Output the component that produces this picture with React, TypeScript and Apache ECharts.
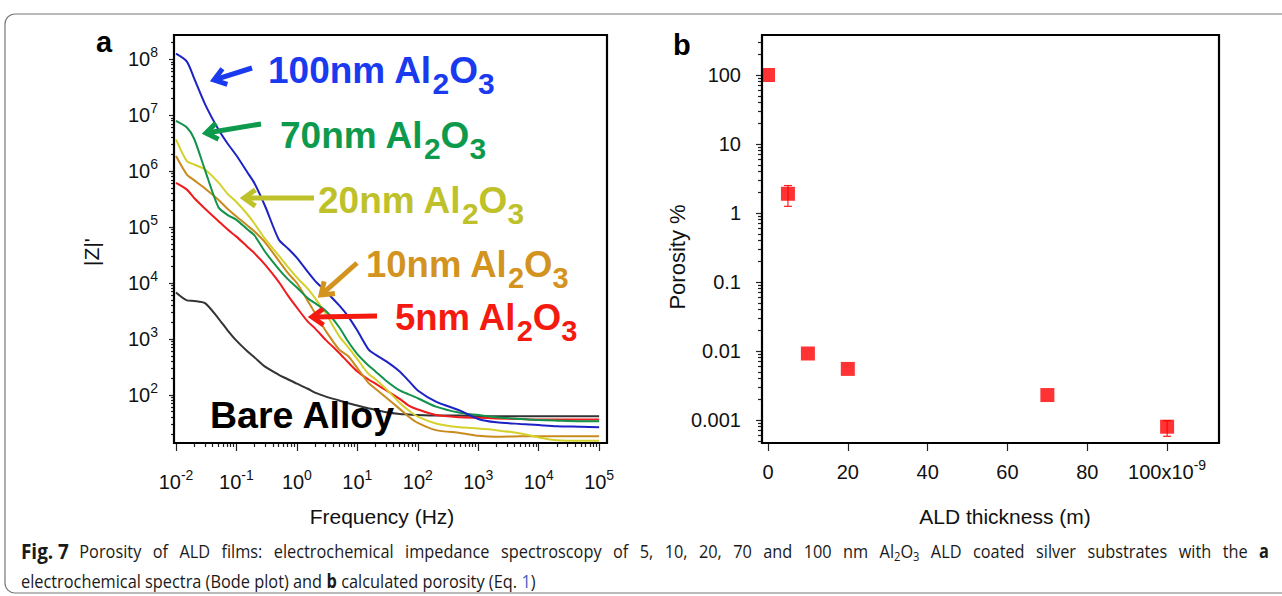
import React, { useEffect, useRef } from "react";
import * as echarts from "echarts";

// ---------------- Panel a: Bode plot, values read as log10 ----------------
const log10Freq = [-2, -1.82, -1.7, -1.52, -1.3, -1.15, -1, -0.82, -0.7, -0.52, -0.3, -0.15, 0, 0.18, 0.3, 0.48, 0.7, 0.85, 1, 1.18, 1.3, 1.48, 1.7, 1.85, 2, 2.3, 2.7, 3, 3.3, 3.7, 4, 4.3, 4.7, 5];

const log10Z100nm = [8.10, 7.96, 7.66, 7.20, 6.75, 6.50, 6.28, 5.98, 5.78, 5.36, 4.78, 4.62, 4.45, 4.20, 4.04, 3.85, 3.60, 3.40, 3.15, 2.82, 2.72, 2.60, 2.42, 2.25, 2.08, 1.88, 1.72, 1.57, 1.51, 1.48, 1.46, 1.44, 1.43, 1.42];
const log10Z70nm = [6.90, 6.78, 6.58, 6.02, 5.36, 5.22, 5.13, 4.96, 4.85, 4.55, 4.25, 4.07, 3.92, 3.73, 3.64, 3.50, 3.21, 2.95, 2.73, 2.53, 2.42, 2.25, 2.08, 2.01, 1.94, 1.79, 1.68, 1.64, 1.60, 1.57, 1.55, 1.54, 1.53, 1.53];
const log10Z20nm = [6.57, 6.18, 6.12, 6.03, 5.80, 5.60, 5.45, 5.23, 5.06, 4.78, 4.49, 4.29, 4.10, 3.90, 3.73, 3.45, 3.05, 2.85, 2.64, 2.38, 2.28, 2.10, 1.86, 1.72, 1.61, 1.49, 1.42, 1.40, 1.37, 1.31, 1.24, 1.19, 1.18, 1.18];
const log10Z10nm = [6.27, 5.94, 5.84, 5.69, 5.49, 5.33, 5.19, 5.03, 4.92, 4.72, 4.40, 4.18, 4.00, 3.68, 3.46, 3.14, 2.81, 2.69, 2.48, 2.22, 2.11, 1.95, 1.75, 1.61, 1.50, 1.37, 1.32, 1.27, 1.25, 1.26, 1.26, 1.26, 1.26, 1.26];
const log10Z5nm = [5.79, 5.67, 5.52, 5.33, 5.11, 4.96, 4.83, 4.65, 4.53, 4.32, 4.02, 3.78, 3.56, 3.31, 3.19, 2.98, 2.75, 2.58, 2.42, 2.28, 2.20, 2.08, 1.93, 1.81, 1.74, 1.64, 1.60, 1.59, 1.58, 1.57, 1.56, 1.56, 1.56, 1.56];
const log10ZBare = [3.83, 3.69, 3.68, 3.64, 3.37, 3.16, 2.97, 2.78, 2.67, 2.50, 2.36, 2.28, 2.20, 2.11, 2.04, 1.97, 1.90, 1.85, 1.81, 1.76, 1.73, 1.69, 1.66, 1.65, 1.64, 1.63, 1.63, 1.62, 1.62, 1.62, 1.62, 1.62, 1.62, 1.62];

const freqTickExp = [-2, -1, 0, 1, 2, 3, 4, 5];
const zTickExp = [2, 3, 4, 5, 6, 7, 8];

// ---------------- Panel b: porosity ----------------
const thicknessNm = [0, 5, 10, 20, 70, 100];
const porosityPct = [100, 1.9, 0.0092, 0.0055, 0.0023, 0.0008];
const errThicknessNm = [5, 100];
const errLowPct = [1.25, 0.00058];
const errHighPct = [2.5, 0.00098];

const thicknessTicks = [0, 20, 40, 60, 80, 100];
const porosityTicks = [0.001, 0.01, 0.1, 1, 10, 100];
const porosityTickLabels = ["0.001", "0.01", "0.1", "1", "10", "100"];

const FONT = "'Liberation Sans', Arial, Helvetica, sans-serif";
const CAP_FONT = "'Open Sans', 'Noto Sans', sans-serif";

// minor tick positions (axis decoration only)
const xMinorA: number[] = [];
for (let e = -2; e <= 4; e++) for (let k = 2; k <= 9; k++) xMinorA.push(e + Math.log10(k));
const yMinorA: number[] = [];
for (let e = 1; e <= 8; e++) for (let k = 2; k <= 9; k++) { const v = e + Math.log10(k); if (v > 1.14 && v < 8.435) yMinorA.push(v); }
const yMinorB: number[] = [];
for (let e = -4; e <= 2; e++) for (let k = 2; k <= 9; k++) { const v = parseFloat((k * Math.pow(10, e)).toPrecision(3)); if (v > 0.000464 && v < 380) yMinorB.push(v); }

const supRich = {
  b: { fontSize: 20, fontFamily: FONT, color: "#111", lineHeight: 28, verticalAlign: "middle" },
  s: { fontSize: 14, fontFamily: FONT, color: "#111", lineHeight: 14, verticalAlign: "top" },
};

function txt(text: string, x: number, y: number, o: any = {}) {
  const align = o.align || "center";
  const va = o.va || "middle";
  return {
    type: "text", x, y, rotation: o.rotation || 0, z: 100, silent: true,
    style: {
      text, fontSize: o.fontSize || 20, fontWeight: o.fontWeight || "normal", fontFamily: o.fontFamily || FONT,
      fill: o.color || "#111", align, verticalAlign: va, textAlign: align, textVerticalAlign: va, rich: o.rich,
    },
  };
}

function annRich(color: string, size: number) {
  return {
    m: { fontSize: size, fontWeight: "bold", fontFamily: FONT, fill: color, color, lineHeight: Math.round(size * 1.55), verticalAlign: "middle" },
    s: { fontSize: Math.round(size * 0.8), fontWeight: "bold", fontFamily: FONT, fill: color, color, lineHeight: Math.round(size * 0.95), verticalAlign: "bottom" },
  };
}

function arrow(x1: number, y1: number, x2: number, y2: number, color: string) {
  const ang = Math.atan2(y2 - y1, x2 - x1);
  const L = 14, spread = 0.62;
  const a1 = ang + Math.PI - spread, a2 = ang + Math.PI + spread;
  const ex = x2 - 2 * Math.cos(ang), ey = y2 - 2 * Math.sin(ang);
  return [
    { type: "line", z: 99, silent: true, shape: { x1, y1, x2: ex, y2: ey }, style: { stroke: color, lineWidth: 5 } },
    {
      type: "polyline", z: 99, silent: true,
      shape: { points: [[x2 + L * Math.cos(a1), y2 + L * Math.sin(a1)], [x2, y2], [x2 + L * Math.cos(a2), y2 + L * Math.sin(a2)]] },
      style: { stroke: color, lineWidth: 5, fill: "none", lineJoin: "miter" },
    },
  ];
}

function buildOption() {
  const curves = [
    { name: "Bare Alloy", d: log10ZBare, c: "#333333" },
    { name: "5nm Al2O3", d: log10Z5nm, c: "#ee1c1c" },
    { name: "10nm Al2O3", d: log10Z10nm, c: "#c98a1e" },
    { name: "20nm Al2O3", d: log10Z20nm, c: "#d4d02c" },
    { name: "70nm Al2O3", d: log10Z70nm, c: "#12924a" },
    { name: "100nm Al2O3", d: log10Z100nm, c: "#1c22c4" },
  ];
  const tickStyle = { color: "#222", width: 1.2 };
  const capInk = "#1a1a1a";
  const capRich: any = {
    fig: { fontSize: 22, fontWeight: "bold", fontFamily: CAP_FONT, fill: capInk, lineHeight: 26, verticalAlign: "middle" },
    n: { fontSize: 19, fontFamily: CAP_FONT, fill: capInk, lineHeight: 26, verticalAlign: "middle" },
    bold: { fontSize: 19, fontWeight: "bold", fontFamily: CAP_FONT, fill: capInk, lineHeight: 26, verticalAlign: "middle" },
    sub: { fontSize: 13, fontFamily: CAP_FONT, fill: capInk, lineHeight: 14, verticalAlign: "bottom" },
    link: { fontSize: 19, fontFamily: CAP_FONT, fill: "#3b5fc4", lineHeight: 26, verticalAlign: "middle" },
    sp: { fontSize: 19, fontFamily: CAP_FONT, fill: capInk, lineHeight: 26, width: 13.2, verticalAlign: "middle" },
    gap: { fontSize: 19, fontFamily: CAP_FONT, fill: capInk, lineHeight: 26, width: 12, verticalAlign: "middle" },
  };
  const capScale = 0.86;
  const line1Words = [
    "{n|Porosity}", "{n|of}", "{n|ALD}", "{n|films:}", "{n|electrochemical}", "{n|impedance}", "{n|spectroscopy}", "{n|of}",
    "{n|5,}", "{n|10,}", "{n|20,}", "{n|70}", "{n|and}", "{n|100}", "{n|nm}", "{n|Al}{sub|2}{n|O}{sub|3}", "{n|ALD}",
    "{n|coated}", "{n|silver}", "{n|substrates}", "{n|with}", "{n|the}", "{bold|a}",
  ];
  const line1 = "{fig|Fig. 7}{gap| }" + line1Words.join("{sp| }");

  const graphics: any[] = [
    { type: "rect", z: 0, silent: true, shape: { x: 5, y: 14, width: 1300, height: 579, r: 10 }, style: { fill: "none", stroke: "#777", lineWidth: 1.2 } },
    { type: "rect", z: 60, silent: true, shape: { x: 174, y: 35, width: 433, height: 408 }, style: { fill: "none", stroke: "#000", lineWidth: 2.2 } },
    { type: "rect", z: 60, silent: true, shape: { x: 762, y: 35, width: 457, height: 408 }, style: { fill: "none", stroke: "#000", lineWidth: 2.2 } },
    txt("a", 96, 42, { fontSize: 29, fontWeight: "bold", align: "left", color: "#000" }),
    txt("b", 673, 45, { fontSize: 29, fontWeight: "bold", align: "left", color: "#000" }),
    txt("|Z|'", 91, 252, { fontSize: 21, rotation: Math.PI / 2 }),
    txt("Frequency (Hz)", 382, 516, { fontSize: 21 }),
    txt("Porosity %", 677, 257, { fontSize: 22, rotation: Math.PI / 2 }),
    txt("ALD thickness (m)", 1005, 516, { fontSize: 21 }),
    txt("{m|100nm Al}{s|2}{m|O}{s|3}", 268, 70, { align: "left", rich: annRich("#1a3af0", 37) }),
    txt("{m|70nm Al}{s|2}{m|O}{s|3}", 280, 135, { align: "left", rich: annRich("#0e9a4c", 37) }),
    txt("{m|20nm Al}{s|2}{m|O}{s|3}", 318, 200, { align: "left", rich: annRich("#bfc12a", 37) }),
    txt("{m|10nm Al}{s|2}{m|O}{s|3}", 366, 264, { align: "left", rich: annRich("#d3931f", 36.5) }),
    txt("{m|5nm Al}{s|2}{m|O}{s|3}", 395, 317, { align: "left", rich: annRich("#f51a0f", 36.5) }),
    txt("Bare Alloy", 210, 415, { align: "left", fontSize: 37.5, fontWeight: "bold", color: "#000" }),
    ...arrow(252, 68, 214, 80, "#1a3af0"),
    ...arrow(261, 124, 206, 133, "#0e9a4c"),
    ...arrow(314, 198, 244, 198, "#bfc12a"),
    ...arrow(357, 263, 321, 295, "#d3931f"),
    ...arrow(377, 316, 312, 317, "#f51a0f"),
    {
      type: "group", x: 21, y: 0, scaleX: capScale, silent: true,
      children: [
        txt(line1, 0, 550, { align: "left", rich: capRich }),
        txt("{n|electrochemical spectra (Bode plot) and }{bold|b}{n| calculated porosity (Eq. }{link|1}{n|)}", 0, 580, { align: "left", rich: capRich }),
      ],
    },
  ];

  const noLine = { show: false, onZero: false };

  return {
    animation: false,
    backgroundColor: "#fff",
    grid: [
      { left: 174, top: 35, width: 433, height: 408, show: false },
      { left: 762, top: 35, width: 457, height: 408, show: false },
    ],
    xAxis: [
      {
        gridIndex: 0, type: "value", min: -2.033, max: 5.13, position: "bottom",
        axisLine: noLine, splitLine: { show: false },
        axisTick: { show: true, customValues: freqTickExp, length: 8, lineStyle: tickStyle },
        axisLabel: { customValues: freqTickExp, margin: 25, formatter: (v: number) => `{b|10}{s|${Math.round(v)}}`, rich: supRich },
      },
      {
        gridIndex: 0, type: "value", min: -2.033, max: 5.13, position: "bottom",
        axisLine: noLine, splitLine: { show: false },
        axisTick: { show: true, customValues: xMinorA, length: 4, lineStyle: tickStyle },
        axisLabel: { show: false },
      },
      {
        gridIndex: 1, type: "value", min: -1.5, max: 113, position: "bottom",
        axisLine: noLine, splitLine: { show: false },
        axisTick: { show: true, customValues: thicknessTicks, length: 8, lineStyle: tickStyle },
        axisLabel: {
          customValues: thicknessTicks, margin: 15, rich: supRich,
          formatter: (v: number) => (Math.round(v) === 100 ? "{b|100x10}{s|-9}" : `{b|${Math.round(v)}}`),
        },
      },
    ],
    yAxis: [
      {
        gridIndex: 0, type: "value", min: 1.14, max: 8.435, position: "left",
        axisLine: noLine, splitLine: { show: false },
        axisTick: { show: true, customValues: zTickExp, length: 5, lineStyle: tickStyle },
        axisLabel: { customValues: zTickExp, margin: 16, formatter: (v: number) => `{b|10}{s|${Math.round(v)}}`, rich: supRich },
      },
      {
        gridIndex: 0, type: "value", min: 1.14, max: 8.435, position: "left",
        axisLine: noLine, splitLine: { show: false },
        axisTick: { show: true, customValues: yMinorA, length: 3, lineStyle: tickStyle },
        axisLabel: { show: false },
      },
      {
        gridIndex: 1, type: "log", logBase: 10, min: 0.000464, max: 380, position: "left",
        axisLine: noLine, splitLine: { show: false },
        axisTick: { show: true, customValues: porosityTicks, length: 6, lineStyle: tickStyle },
        axisLabel: {
          customValues: porosityTicks, margin: 21, fontSize: 20, fontFamily: FONT, color: "#111",
          formatter: (v: number) => {
            const i = porosityTicks.findIndex((t) => Math.abs(Math.log10(t) - Math.log10(v)) < 1e-6);
            return i >= 0 ? porosityTickLabels[i] : "";
          },
        },
      },
      {
        gridIndex: 1, type: "log", logBase: 10, min: 0.000464, max: 380, position: "left",
        axisLine: noLine, splitLine: { show: false },
        axisTick: { show: true, customValues: yMinorB, length: 4, lineStyle: tickStyle },
        axisLabel: { show: false },
      },
    ],
    series: [
      ...curves.map((c) => ({
        type: "line", name: c.name, xAxisIndex: 0, yAxisIndex: 0,
        data: log10Freq.map((f, i) => [f, c.d[i]]),
        showSymbol: false, symbol: "none", smooth: 0.25,
        lineStyle: { color: c.c, width: 2 }, itemStyle: { color: c.c }, z: 2,
      })),
      {
        type: "custom", name: "error", xAxisIndex: 2, yAxisIndex: 2, z: 3,
        data: errThicknessNm.map((x, i) => [x, errLowPct[i], errHighPct[i]]),
        encode: { x: 0, y: [1, 2] },
        renderItem: (_p: any, api: any) => {
          const x = api.value(0);
          const lo = api.coord([x, api.value(1)]);
          const hi = api.coord([x, api.value(2)]);
          const st = { stroke: "#ff1a1a", lineWidth: 1.2 };
          return {
            type: "group",
            children: [
              { type: "line", shape: { x1: lo[0], y1: lo[1], x2: hi[0], y2: hi[1] }, style: st },
              { type: "line", shape: { x1: lo[0] - 4, y1: lo[1], x2: lo[0] + 4, y2: lo[1] }, style: st },
              { type: "line", shape: { x1: hi[0] - 4, y1: hi[1], x2: hi[0] + 4, y2: hi[1] }, style: st },
            ],
          };
        },
      },
      {
        type: "scatter", name: "Porosity", xAxisIndex: 2, yAxisIndex: 2, z: 4,
        data: thicknessNm.map((t, i) => [t, porosityPct[i]]),
        symbol: "rect", symbolSize: 14, itemStyle: { color: "#ff0000" },
      },
    ],
    graphic: { elements: graphics },
  };
}

export default function App() {
  const ref = useRef<HTMLDivElement>(null);
  useEffect(() => {
    const chart = echarts.init(ref.current!, null, { renderer: "svg" });
    chart.setOption(buildOption() as any);
    return () => chart.dispose();
  }, []);
  return (
    <div
      ref={ref}
      style={{ position: "fixed", left: 0, top: 0, width: 1282, height: 596, background: "#fff" }}
    />
  );
}
